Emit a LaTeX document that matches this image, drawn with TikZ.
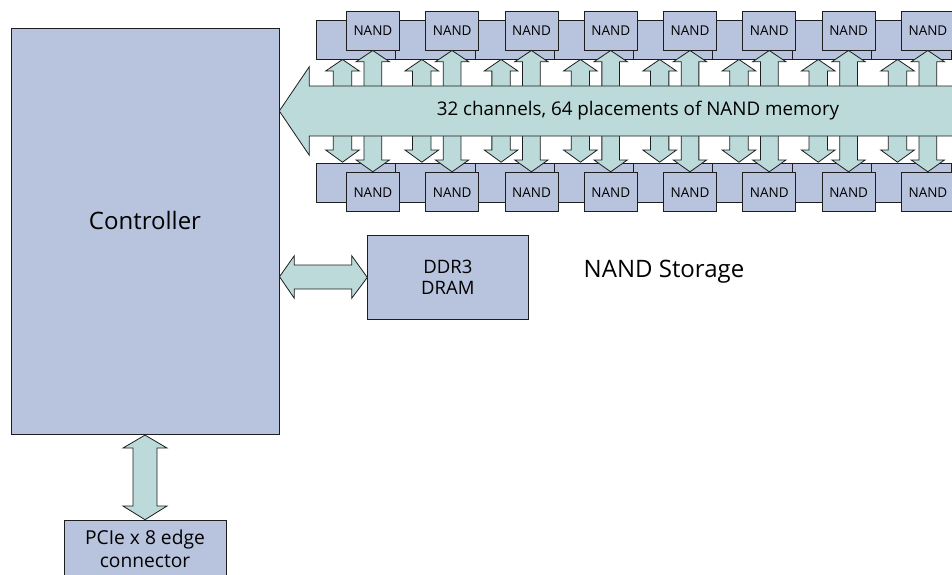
\documentclass[tikz,border=0pt]{standalone}
\usepackage{fontspec}
\setmainfont{Open Sans}
\definecolor{boxfill}{RGB}{184,196,221}
\definecolor{arrowfill}{RGB}{187,218,217}
\definecolor{edge}{RGB}{30,30,30}
\begin{document}
\begin{tikzpicture}[x=1pt,y=-1pt,line join=miter,
  box/.style={draw=edge,fill=boxfill,line width=0.8pt,inner sep=0pt},
  arr/.style={draw=edge,fill=arrowfill,line width=0.8pt},
  lbl/.style={inner sep=0pt,align=center,text=black},
  nandbox/.style={box,minimum width=53pt,minimum height=39pt,anchor=north west,font=\fontsize{13.5}{15}\selectfont},
  backbox/.style={box,minimum width=80pt,minimum height=39.5pt,anchor=north west}]
\useasboundingbox (0,0) rectangle (952,574);
\clip (0,0) rectangle (952,574);
\fill[white] (0,0) rectangle (952,574);
% NAND rows
\foreach \k in {0,...,7}{
  \node[backbox] (tb\k) at ({316+79.29*\k},19.5) {};
  \node[backbox] (bb\k) at ({316+79.29*\k},162.7) {};
}
\foreach \k in {0,...,7}{
  \node[nandbox] (tn\k) at ({346+79.29*\k},11) {NAND};
  \node[nandbox] (bn\k) at ({346+79.29*\k},172.3) {NAND};
}
% small channel arrows
\foreach \k in {0,...,7}{
  \begin{scope}[xshift={79.29*\k}]
  \draw[arr] (333.3,100) -- (333.3,71) -- (325.7,71) -- (342.5,59.5) -- (359.3,71) -- (351.7,71) -- (351.7,100) -- cycle;
  \draw[arr] (364,100) -- (364,61.7) -- (356.2,61.7) -- (372.8,50.5) -- (389.4,61.7) -- (381.7,61.7) -- (381.7,100) -- cycle;
  \draw[arr] (333.3,120) -- (333.3,150) -- (325.7,150) -- (342.5,162.2) -- (359.3,150) -- (351.7,150) -- (351.7,120) -- cycle;
  \draw[arr] (364,120) -- (364,160) -- (356.2,160) -- (372.8,171.8) -- (389.4,160) -- (381.7,160) -- (381.7,120) -- cycle;
  \end{scope}
}
% main bus arrow
\draw[arr] (970,86) -- (309.3,86) -- (309.3,66.7) -- (279.3,111) -- (309.3,155.3) -- (309.3,136) -- (970,136) -- cycle;
\node[lbl,font=\fontsize{18.8}{22}\selectfont] (bus) at (638,111) {32 channels, 64 placements of NAND memory};
% controller
\node[box,anchor=north west,minimum width=267.7pt,minimum height=406pt] (ctrl) at (11,28.3) {};
\node[lbl,font=\fontsize{24}{28}\selectfont] (ctrltext) at (145,220) {Controller};
% DRAM
\node[box,anchor=north west,minimum width=160.4pt,minimum height=83.4pt,font=\fontsize{18.5}{21.5}\selectfont,align=center] (ddr) at (367.3,235.3) {DDR3\\DRAM};
\draw[arr] (ctrl.east |- 0,276.7) -- (294.3,255.7) -- (294.3,265) -- (351.7,265) -- (351.7,255.7) -- (ddr.west) -- (351.7,298.3) -- (351.7,289) -- (294.3,289) -- (294.3,298.3) -- cycle;
\node[lbl,font=\fontsize{24}{28}\selectfont] (storage) at (664,272) {NAND Storage};
% PCIe
\node[box,anchor=north west,minimum width=162pt,minimum height=70pt] (pcie) at (64,520) {};
\node[lbl,font=\fontsize{19.2}{23}\selectfont] (pcietext) at (145,548.5) {PCIe x 8 edge\\connector};
\draw[arr] (ctrl.south -| 145,0) -- (167,448) -- (157,448) -- (157,506) -- (167,506) -- (145,519.7) -- (123,506) -- (133,506) -- (133,448) -- (123,448) -- cycle;
\end{tikzpicture}
\end{document}
